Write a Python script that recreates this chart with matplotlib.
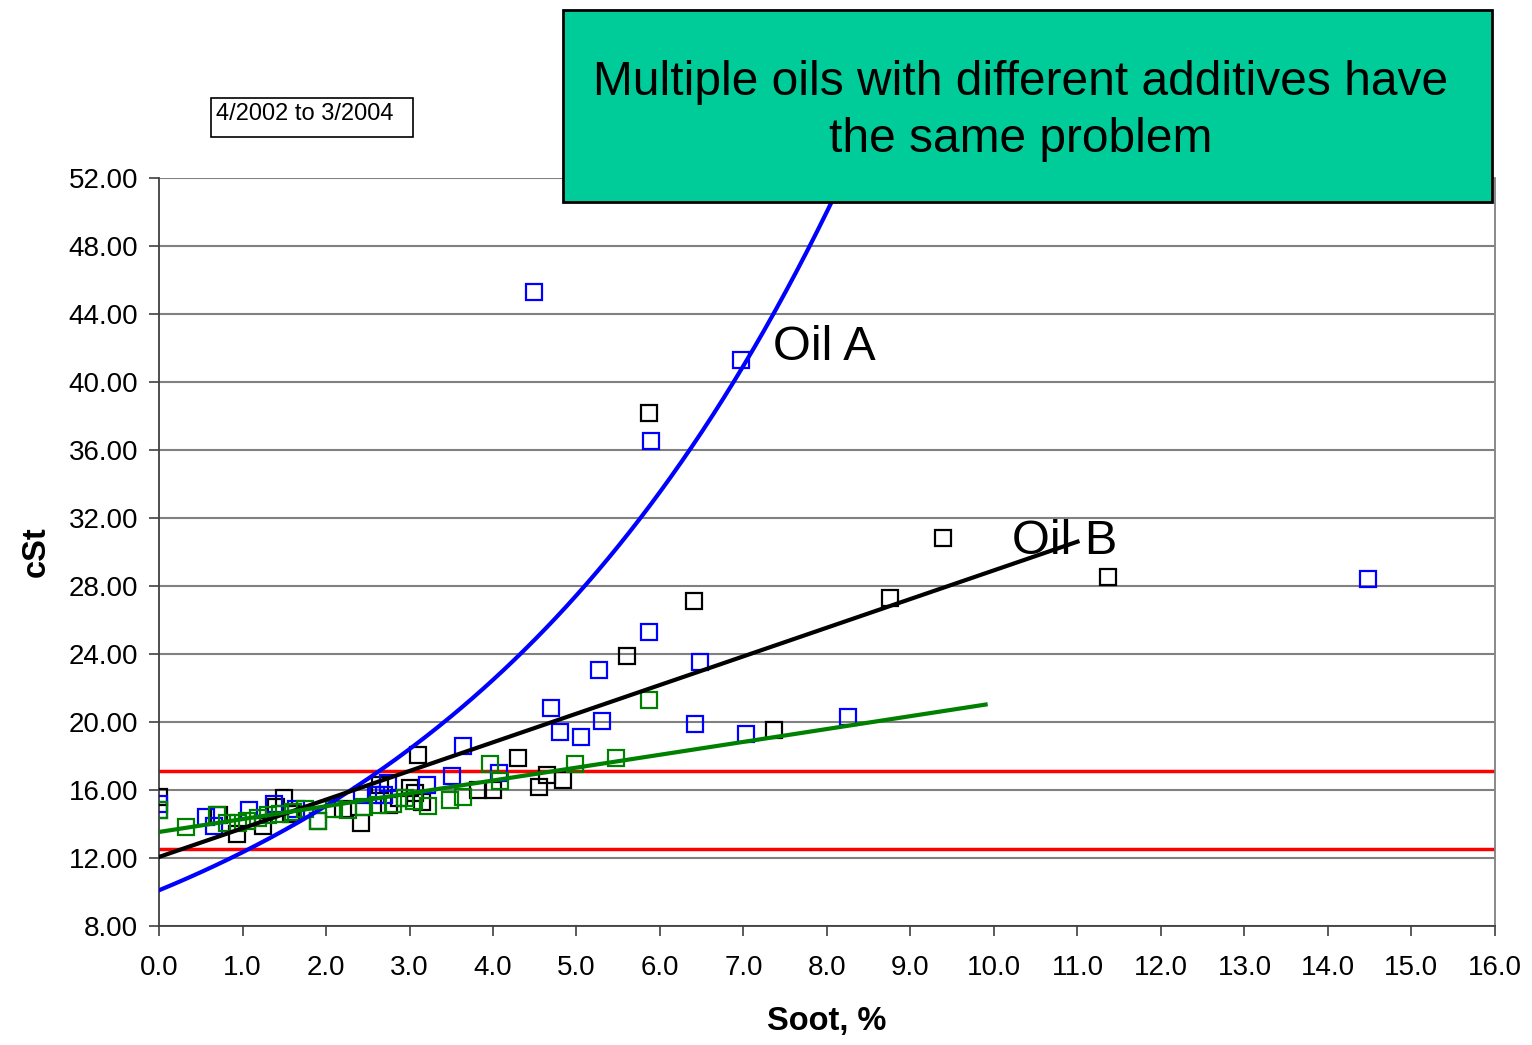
import numpy as np
import matplotlib.pyplot as plt
from matplotlib.patches import Rectangle

plt.rcParams['font.family'] = ['Liberation Sans', 'DejaVu Sans']

# Oil A (blue squares)
oil_a_soot = [0.0, 0.0, 0.56, 0.66, 1.08, 1.38, 1.64, 2.43, 2.60, 2.70, 2.74, 3.21, 3.51, 3.64, 4.07,
              4.49, 4.69, 4.80, 5.05, 5.27, 5.31, 5.87, 5.89, 6.42, 6.48, 6.97, 7.03, 8.25, 14.48]
oil_a_cst = [15.2, 14.8, 14.4, 13.9, 14.8, 15.2, 14.9, 15.7, 15.7, 15.7, 16.4, 16.3, 16.8, 18.6, 17.0,
             45.3, 20.8, 19.4, 19.1, 23.06, 20.06, 25.3, 36.5, 19.9, 23.5, 41.3, 19.3, 20.3, 28.4]

# Oil B (black squares)
oil_b_soot = [0.0, 0.72, 0.93, 1.25, 1.40, 1.50, 1.58, 1.90, 2.20, 2.42, 2.65, 2.75, 2.88, 3.00, 3.07,
              3.10, 3.15, 3.82, 4.00, 4.30, 4.55, 4.65, 4.84, 5.60, 5.87, 6.41, 7.37, 8.75, 9.39, 11.37]
oil_b_cst = [15.6, 14.5, 13.4, 13.9, 15.0, 15.5, 14.6, 14.2, 14.9, 14.06, 16.3, 15.1, 15.5, 16.1, 15.8,
             18.06, 15.3, 16.0, 16.0, 17.9, 16.2, 16.9, 16.6, 23.9, 38.2, 27.1, 19.5, 27.3, 30.8, 28.5]

# third oil (green squares)
oil_c_soot = [0.0, 0.32, 0.70, 0.81, 0.95, 1.05, 1.19, 1.30, 1.45, 1.60, 1.75, 1.90, 2.10, 2.26, 2.45,
              2.62, 2.80, 2.95, 3.05, 3.22, 3.48, 3.64, 3.96, 4.08, 4.98, 5.47, 5.87]
oil_c_cst = [14.8, 13.8, 14.5, 14.06, 14.06, 14.2, 14.35, 14.5, 14.6, 14.7, 14.9, 14.2, 14.9, 14.8, 15.0,
             15.1, 15.2, 15.5, 15.35, 15.06, 15.4, 15.6, 17.5, 16.5, 17.5, 17.9, 21.3]

# trendline coefficients
exp_a, exp_b = 10.1, 0.2          # oil A: y = a*exp(b*x)
lin_b = (12.06, 1.686, 11.0)      # oil B: intercept, slope, end x
lin_c = (13.53, 0.757, 9.9)       # green: intercept, slope, end x

limits = [17.1, 12.55]

fig = plt.figure(figsize=(15.32, 10.45), dpi=100)
ax = fig.add_axes([0.1038, 0.1139, 0.872, 0.7158])

ax.set_xlim(0, 16)
ax.set_ylim(8, 52)
ax.set_xticks(np.arange(0, 17, 1))
ax.set_xticklabels(['%.1f' % v for v in range(17)])
ax.set_yticks(np.arange(8, 53, 4))
ax.set_yticklabels(['%.2f' % v for v in range(8, 53, 4)])
ax.tick_params(labelsize=20, direction='out', length=7, width=1.2, colors='#404040', labelcolor='black')
ax.tick_params(axis='x', pad=14)
ax.tick_params(axis='y', pad=8)
ax.grid(axis='y', color='#808080', lw=1.5)
ax.set_axisbelow(True)
for s in ['left', 'bottom']:
    ax.spines[s].set_color('#404040')
    ax.spines[s].set_linewidth(1.3)
ax.spines['right'].set_color('#808080')
ax.spines['right'].set_linewidth(1.3)
ax.spines['top'].set_visible(False)

for y in limits:
    ax.axhline(y, color='#ff0000', lw=2.5, zorder=2)

ms = 11
ax.plot(oil_b_soot, oil_b_cst, 's', mfc='none', mec='black', ms=ms, mew=1.6, zorder=3)
ax.plot(oil_a_soot, oil_a_cst, 's', mfc='none', mec='#0000ff', ms=ms, mew=1.6, zorder=3)
ax.plot(oil_c_soot, oil_c_cst, 's', mfc='none', mec='#008000', ms=ms, mew=1.6, zorder=3)

xa = np.linspace(0, 8.3, 200)
ax.plot(xa, exp_a * np.exp(exp_b * xa), color='#0000ff', lw=3, zorder=4)
xb = np.array([0, lin_b[2]])
ax.plot(xb, lin_b[0] + lin_b[1] * xb, color='black', lw=3, zorder=5)
xc = np.array([0, lin_c[2]])
ax.plot(xc, lin_c[0] + lin_c[1] * xc, color='#008000', lw=3, zorder=6)

ax.text(7.35, 42.0, 'Oil A', fontsize=35, va='center', zorder=7)
ax.text(10.22, 30.6, 'Oil B', fontsize=35, va='center', zorder=7)

ax.set_xlabel('Soot, %', fontsize=23.5, fontweight='bold', labelpad=18)
ax.set_ylabel('cSt', fontsize=23.5, fontweight='bold', labelpad=12)

fig.patches.append(Rectangle((211 / 1532, 1 - 137 / 1045), 202 / 1532, 39 / 1045,
                             transform=fig.transFigure, fc='white', ec='black', lw=1.2))
fig.text(216 / 1532, 1 - 114 / 1045, '4/2002 to 3/2004', fontsize=17, va='center')

fig.patches.append(Rectangle((563 / 1532, 1 - 202 / 1045), 929 / 1532, 192 / 1045,
                             transform=fig.transFigure, fc='#00cc99', ec='black', lw=2, zorder=10))
fig.text(1021 / 1532, 1 - 111 / 1045, 'Multiple oils with different additives have\nthe same problem',
         fontsize=34.5, ha='center', va='center', linespacing=1.34, zorder=11)

fig.savefig('out.png', dpi=100)
